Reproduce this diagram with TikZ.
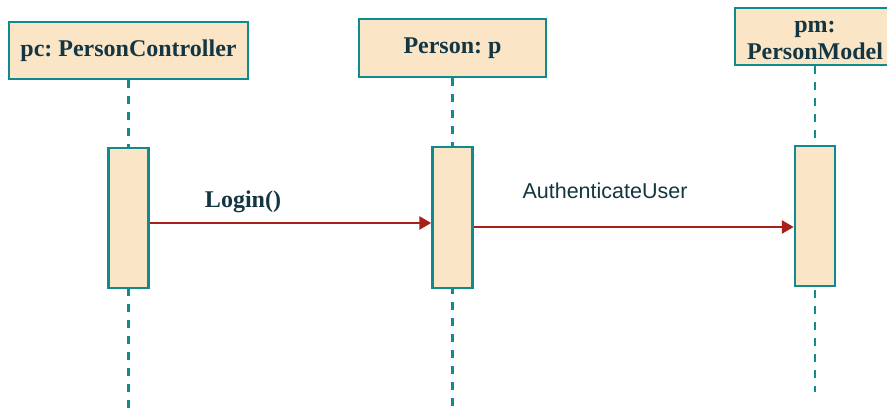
\documentclass[tikz,border=0pt]{standalone}
\usepackage{fontspec}
\setmainfont{Liberation Serif}
\newfontfamily\labelsans{Liberation Sans}
\usetikzlibrary{arrows.meta}
\definecolor{boxfill}{HTML}{FAE5C7}
\definecolor{boxline}{HTML}{0F8B8D}
\definecolor{txt}{HTML}{143642}
\definecolor{msgred}{HTML}{A8201A}
\frenchspacing
\tikzset{
  headbox/.style={draw=boxline, fill=boxfill, line width=2.5pt, inner sep=0pt,
    text=txt, font=\bfseries\fontsize{24}{27}\selectfont, align=center},
  headtext/.style={text=txt, font=\bfseries\fontsize{24}{27}\selectfont, align=center, inner sep=0pt},
  actbox/.style={draw=boxline, fill=boxfill, line width=2.5pt, inner sep=0pt,
    minimum width=40pt},
  lifeline/.style={draw=boxline, line width=2.5pt, dash pattern=on 8pt off 8pt},
  msg/.style={draw=msgred, line width=2.8pt, -{Triangle[length=12pt,width=13pt]}},
  serlabel/.style={text=txt, font=\bfseries\fontsize{24}{26}\selectfont},
  sanslabel/.style={text=txt, font=\labelsans\fontsize{21.5}{24}\selectfont},
}
\begin{document}
\begin{tikzpicture}[x=1pt,y=-1pt]
\useasboundingbox (0,0) rectangle (887,411);
\clip (0,0) rectangle (887,411);
\fill[white] (0,0) rectangle (887,411);
% heads
\node[headbox, minimum width=239pt, minimum height=57pt] (h1) at (128.5,50.5) {pc: PersonController};
\node[headbox, minimum width=187pt, minimum height=58pt] (h2) at (452.5,48) {Person: p};
\node[headbox, minimum width=160pt, minimum height=57pt] (h3) at (815,36.5) {};
\node[headtext] (h3t) at (815,40) {pm:\\PersonModel};
% lifeline ends
\coordinate (e1) at (128.5,408);
\coordinate (e2) at (452.5,407);
\coordinate (e3) at (815,392);
\draw[lifeline] (h1.south) -- (e1);
\draw[lifeline] (h2.south) -- (e2);
\draw[lifeline] (h3.south) -- (e3);
% activations
\node[actbox, minimum height=140pt] (a1) at (128.5,218) {};
\node[actbox, minimum height=141pt] (a2) at (452.5,217.5) {};
\node[actbox, minimum height=140pt] (a3) at (815,216) {};
% messages
\coordinate (m1) at (0,223);
\coordinate (m2) at (0,227);
\draw[msg] (a1.east |- m1) -- (a2.west |- m1);
\draw[msg] (a2.east |- m2) -- (a3.west |- m2);
\node[serlabel] (l1) at (243,202) {Login()};
\node[sanslabel] (l2) at (605,191) {AuthenticateUser};
\end{tikzpicture}
\end{document}
